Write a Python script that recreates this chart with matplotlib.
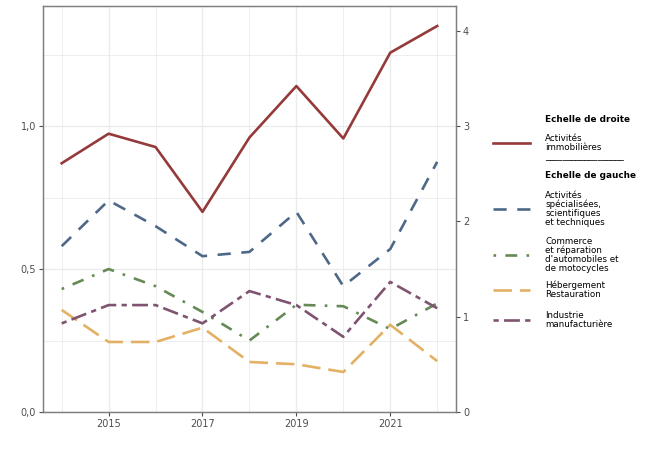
import numpy as np
import matplotlib
matplotlib.use("Agg")
import matplotlib.pyplot as plt
from matplotlib.lines import Line2D
from matplotlib.ticker import FixedLocator, FuncFormatter

years = [2014, 2015, 2016, 2017, 2018, 2019, 2020, 2021, 2022]

# right scale
immo = [2.61, 2.92, 2.78, 2.10, 2.88, 3.42, 2.87, 3.77, 4.05]

# left scale
specialisees = [0.58, 0.74, 0.65, 0.545, 0.56, 0.70, 0.44, 0.57, 0.875]
commerce = [0.43, 0.50, 0.44, 0.35, 0.25, 0.375, 0.37, 0.29, 0.38]
hebergement = [0.357, 0.245, 0.245, 0.295, 0.175, 0.167, 0.14, 0.305, 0.178]
industrie = [0.31, 0.374, 0.374, 0.31, 0.423, 0.374, 0.263, 0.455, 0.363]

labels_left = [
    "Activités\nspécialisées,\nscientifiques\net techniques",
    "Commerce\net réparation\nd'automobiles et\nde motocycles",
    "Hébergement\nRestauration",
    "Industrie\nmanufacturière",
]
label_right = "Activités\nimmobilières"

c_red = "#953a3a"
c_blue = "#4e6987"
c_green = "#668a55"
c_orange = "#e2b163"
c_purple = "#7e5470"

styles = {
    "blue": (c_blue, (0, (5, 4))),
    "green": (c_green, (0, (1, 3.5, 4.5, 3.5))),
    "orange": (c_orange, (0, (7, 3))),
    "purple": (c_purple, (0, (2, 2, 6, 2))),
}
lw = 1.9
grid_c = "#ebebeb"
border_c = "#7f7f7f"
tick_c = "#4d4d4d"

fig = plt.figure(figsize=(6.5, 4.5), dpi=100)
ax = fig.add_axes([0.066, 0.0844, 0.6355, 0.9023])
ax2 = ax.twinx()

ax.set_xlim(2013.6, 2022.4)
ax.set_ylim(0, 1.42)
ax2.set_ylim(0, 1.42 * 3)

# grid
ax.xaxis.set_major_locator(FixedLocator([2015, 2017, 2019, 2021]))
ax.xaxis.set_minor_locator(FixedLocator([2014, 2016, 2018, 2020, 2022]))
ax.yaxis.set_major_locator(FixedLocator([0, 0.5, 1.0]))
ax.yaxis.set_minor_locator(FixedLocator([0.25, 0.75, 1.25]))
ax.grid(which="major", color=grid_c, lw=1.0)
ax.grid(which="minor", color=grid_c, lw=0.6)
ax.set_axisbelow(True)
ax.tick_params(which="minor", length=0)
ax.yaxis.set_major_formatter(FuncFormatter(lambda v, p: f"{v:.1f}".replace(".", ",")))

ax2.yaxis.set_major_locator(FixedLocator([0, 1, 2, 3, 4]))

for a in (ax, ax2):
    for s in a.spines.values():
        s.set_color(border_c)
        s.set_linewidth(0.9)
    a.tick_params(which="major", length=3, width=0.8, color=tick_c,
                  labelcolor=tick_c, labelsize=7, pad=2)

ax.plot(years, specialisees, color=c_blue, ls=styles["blue"][1], lw=lw)
ax.plot(years, commerce, color=c_green, ls=styles["green"][1], lw=lw)
ax.plot(years, hebergement, color=c_orange, ls=styles["orange"][1], lw=lw)
ax.plot(years, industrie, color=c_purple, ls=styles["purple"][1], lw=lw)
ax2.plot(years, immo, color=c_red, ls="-", lw=lw)

# legend panel
lax = fig.add_axes([0, 0, 1, 1], facecolor="none")
lax.set_xlim(0, 650)
lax.set_ylim(450, 0)
lax.axis("off")

tx = 545
fs = 6.3
lax.text(tx, 120, "Echelle de droite", fontsize=6.4, fontweight="bold", va="center", ha="left")
lax.add_line(Line2D([493, 530], [143, 143], color=c_red, lw=lw))
lax.text(tx, 143, label_right, fontsize=fs, va="center", ha="left", linespacing=1.0)
lax.text(tx, 157, "_" * 18, fontsize=fs, va="center", ha="left")
lax.text(tx, 175, "Echelle de gauche", fontsize=6.4, fontweight="bold", va="center", ha="left")

ys = [209, 255, 290, 320]
keys = ["blue", "green", "orange", "purple"]
for y, k, lab in zip(ys, keys, labels_left):
    col, ls = styles[k]
    lax.add_line(Line2D([493, 530], [y, y], color=col, ls=ls, lw=lw))
    lax.text(tx, y, lab, fontsize=fs, va="center", ha="left", linespacing=1.0)

fig.savefig("out.png", dpi=100)
